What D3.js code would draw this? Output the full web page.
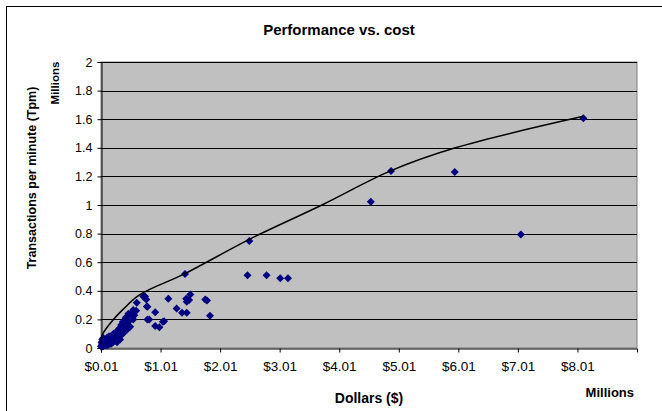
<!DOCTYPE html>
<html>
<head>
<meta charset="utf-8">
<script src="https://cdn.jsdelivr.net/npm/d3@7"></script>
<style>
  body { margin: 0; background: #fff; }
  text { font-family: Arial, "Liberation Sans", sans-serif; }
</style>
</head>
<body>
<div id="chart"></div>
<script>
// cost in millions of dollars, performance in millions of tpm
var costM = [8.11, 5.95, 7.06, 4.88, 4.54, 2.50, 2.47, 2.79, 3.02, 3.15,
  1.76, 1.79, 1.84, 1.42, 1.51, 1.45, 1.49, 1.44, 1.28, 1.37, 1.45,
  1.14, 1.07, 0.92, 0.92, 0.99, 0.79, 0.79, 0.72, 0.77, 0.75, 0.78, 0.82, 1.05,
  0.61, 0.57, 0.55, 0.47, 0.51, 0.43, 0.38, 0.47, 0.50,
  0.01, 0.02, 0.02, 0.03, 0.03, 0.04, 0.05, 0.05, 0.06, 0.08, 0.08, 0.10,
  0.11, 0.13, 0.14, 0.16, 0.17, 0.19, 0.20, 0.22, 0.24, 0.25, 0.27, 0.28,
  0.30, 0.31, 0.33, 0.34, 0.35, 0.37, 0.38, 0.40, 0.41, 0.45, 0.49, 0.55, 0.60,
  0.04, 0.07, 0.12, 0.15, 0.21, 0.26,
  0.12, 0.15, 0.20, 0.25, 0.28, 0.30, 0.35, 0.40, 0.45, 0.09, 0.18, 0.33];
var tpmM = [1.606, 1.231, 0.793, 1.238, 1.023, 0.748, 0.508, 0.508, 0.487, 0.487,
  0.34, 0.333, 0.226, 0.517, 0.375, 0.324, 0.336, 0.345, 0.277, 0.247, 0.247,
  0.345, 0.187, 0.25, 0.154, 0.145, 0.289, 0.20, 0.36, 0.34, 0.36, 0.29, 0.20, 0.184,
  0.317, 0.229, 0.266, 0.24, 0.235, 0.215, 0.184, 0.184, 0.149,
  0.01, 0.02, 0.04, 0.03, 0.06, 0.02, 0.04, 0.07, 0.05, 0.06, 0.03, 0.05,
  0.07, 0.06, 0.08, 0.08, 0.05, 0.08, 0.06, 0.10, 0.07, 0.09, 0.11, 0.08,
  0.13, 0.10, 0.14, 0.12, 0.16, 0.14, 0.18, 0.15, 0.20, 0.17, 0.23, 0.20, 0.26,
  0.01, 0.03, 0.03, 0.04, 0.04, 0.06,
  0.02, 0.03, 0.04, 0.05, 0.04, 0.07, 0.09, 0.11, 0.13, 0.02, 0.03, 0.06];

// upper envelope line
var frontierX = [0.01, 0.03, 0.16, 0.38, 0.65, 1.42, 2.50, 3.72, 4.88, 5.96, 8.11];
var frontierY = [0.03, 0.09, 0.17, 0.27, 0.37, 0.52, 0.76, 1.00, 1.24, 1.40, 1.62];

var xTicks = [0.01, 1.01, 2.01, 3.01, 4.01, 5.01, 6.01, 7.01, 8.01];
var yTicks = [0, 0.2, 0.4, 0.6, 0.8, 1, 1.2, 1.4, 1.6, 1.8, 2];

var width = 662, height = 411;
var plot = { left: 101, right: 637, top: 62, bottom: 348 };

var svg = d3.select("#chart").append("svg")
    .attr("width", width)
    .attr("height", height);

// chart area frame (runs off the right/bottom edges)
svg.append("rect")
    .attr("x", 6.5).attr("y", 6.5)
    .attr("width", 700).attr("height", 450)
    .attr("fill", "#fff")
    .attr("stroke", "#000");

var x = d3.scaleLinear().domain([0.01, 9.01]).range([plot.left, plot.right]);
var y = d3.scaleLinear().domain([0, 2]).range([plot.bottom, plot.top]);

svg.append("rect")
    .attr("x", plot.left).attr("y", plot.top)
    .attr("width", plot.right - plot.left)
    .attr("height", plot.bottom - plot.top)
    .attr("fill", "#c0c0c0")
    .attr("stroke", "#808080");

// gridlines
svg.append("g").selectAll("line")
    .data(yTicks.slice(1))
    .enter().append("line")
    .attr("x1", plot.left).attr("x2", plot.right)
    .attr("y1", function (d) { return Math.round(y(d)) + 0.5; })
    .attr("y2", function (d) { return Math.round(y(d)) + 0.5; })
    .attr("stroke", "#000");

var xAxis = svg.append("g")
    .attr("transform", "translate(0," + (plot.bottom + 0.5) + ")")
    .call(d3.axisBottom(x).tickValues(xTicks).tickSize(4).tickPadding(9)
        .tickFormat(function (d) { return "$" + d.toFixed(2); }));

var yAxis = svg.append("g")
    .attr("transform", "translate(" + (plot.left + 0.5) + ",0)")
    .call(d3.axisLeft(y).tickValues(yTicks).tickSize(4).tickPadding(5)
        .tickFormat(function (d) { return d3.format("")(+d.toFixed(1)); }));

[xAxis, yAxis].forEach(function (g) {
    g.select(".domain").attr("stroke", "#000");
    g.selectAll(".tick line").attr("stroke", "#000");
    g.selectAll("text").attr("fill", "#000");
});
xAxis.selectAll("text").style("font-size", "13.5px");
yAxis.selectAll("text").style("font-size", "12.5px");

// points
var pts = costM.map(function (c, i) { return [c, tpmM[i]]; });
svg.append("g").selectAll("path")
    .data(pts)
    .enter().append("path")
    .attr("d", d3.symbol().type(d3.symbolSquare).size(32))
    .attr("transform", function (d) {
        return "translate(" + x(d[0]) + "," + y(d[1]) + ") rotate(45)";
    })
    .attr("fill", "#000080");

// envelope line
var line = d3.line()
    .x(function (d) { return x(d[0]); })
    .y(function (d) { return y(d[1]); })
    .curve(d3.curveCatmullRom.alpha(0.5));

svg.append("path")
    .datum(frontierX.map(function (v, i) { return [v, frontierY[i]]; }))
    .attr("d", line)
    .attr("fill", "none")
    .attr("stroke", "#000")
    .attr("stroke-width", 1.5);

// titles
svg.append("text")
    .attr("x", 339).attr("y", 35)
    .attr("text-anchor", "middle")
    .style("font-size", "15px").style("font-weight", "bold")
    .text("Performance vs. cost");

svg.append("text")
    .attr("x", 369).attr("y", 403)
    .attr("text-anchor", "middle")
    .style("font-size", "14px").style("font-weight", "bold")
    .text("Dollars ($)");

svg.append("text")
    .attr("x", 634).attr("y", 397)
    .attr("text-anchor", "end")
    .style("font-size", "13px").style("font-weight", "bold")
    .text("Millions");

svg.append("text")
    .attr("transform", "translate(36,178) rotate(-90)")
    .attr("text-anchor", "middle")
    .style("font-size", "12.5px").style("font-weight", "bold")
    .text("Transactions per minute (Tpm)");

svg.append("text")
    .attr("transform", "translate(59,83) rotate(-90)")
    .attr("text-anchor", "middle")
    .style("font-size", "11.5px").style("font-weight", "bold")
    .text("Millions");
</script>
</body>
</html>
